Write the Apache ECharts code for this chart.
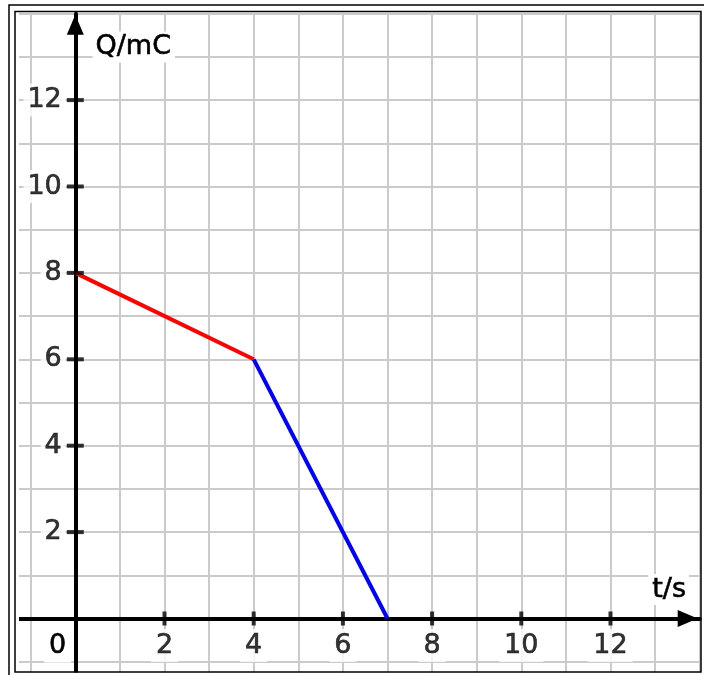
<!DOCTYPE html>
<html><head><meta charset="utf-8">
<script src="https://cdn.jsdelivr.net/npm/echarts@6/dist/echarts.min.js"></script>
<style>html,body{margin:0;padding:0;background:#fff}#c{width:704px;height:675px}</style>
</head><body><div id="c"></div>
<script>
// ---- data ----
const redT = [0, 4];
const redQ = [8, 6];
const blueT = [4, 7];
const blueQ = [6, 0];
const xTickLabels = [2, 4, 6, 8, 10, 12];
const yTickLabels = [2, 4, 6, 8, 10, 12];
const xAxisName = 't/s';
const yAxisName = 'Q/mC';
const originLabel = '0';

// ---- layout ----
const FONT = 'DejaVu Sans';
const X0 = 75.3, XU = 44.6;   // px of t=0, px per unit
const Y0 = 618.5, YU = 43.2;  // px of Q=0, px per unit
const XMIN = -2, XMAX = 14, YMIN = -2, YMAX = 14;

const chart = echarts.init(document.getElementById('c'), null, {renderer: 'canvas'});

const gridAxisX = {
  type: 'value', min: XMIN, max: XMAX, interval: 1, position: 'top', z: 0,
  axisLine: {show: false, onZero: false}, axisTick: {show: false}, axisLabel: {show: false},
  splitLine: {show: true, lineStyle: {color: '#cbcbcb', width: 2}}
};
const gridAxisY = {
  type: 'value', min: YMIN, max: YMAX, interval: 1, position: 'right', z: 0,
  axisLine: {show: false, onZero: false}, axisTick: {show: false}, axisLabel: {show: false},
  splitLine: {show: true, lineStyle: {color: '#cbcbcb', width: 2}}
};
const labelStyle = {fontFamily: FONT, fontSize: 27, color: '#000', backgroundColor: '#fff',
  textBorderColor: '#000', textBorderWidth: 0.6};
const textStyleG = {font: '27px "DejaVu Sans"', fill: '#000', stroke: '#000', lineWidth: 0.6, backgroundColor: '#fff'};

const option = {
  animation: false,
  backgroundColor: '#fff',
  grid: {
    left: X0 + XMIN * XU, top: Y0 - YMAX * YU,
    width: (XMAX - XMIN) * XU, height: (YMAX - YMIN) * YU,
    containLabel: false, outerBoundsMode: 'none'
  },
  xAxis: [gridAxisX, {
    type: 'value', min: XMIN, max: XMAX, interval: 2, position: 'bottom', z: 1,
    axisLine: {show: true, onZero: true, symbol: ['none', 'triangle'], symbolSize: [17, 20],
      symbolOffset: [0, -12], lineStyle: {color: '#000', width: 4}},
    axisTick: {show: false}, splitLine: {show: false}, axisLabel: {show: false}
  }],
  yAxis: [gridAxisY, {
    type: 'value', min: YMIN, max: YMAX, interval: 2, position: 'left', z: 1,
    axisLine: {show: true, onZero: true, symbol: ['none', 'triangle'], symbolSize: [17, 20],
      symbolOffset: [0, -11], lineStyle: {color: '#000', width: 4}},
    axisTick: {show: false}, splitLine: {show: false}, axisLabel: {show: false}
  }],
  series: [
    {type: 'line', xAxisIndex: 1, yAxisIndex: 1, z: 2, showSymbol: false, silent: true,
      data: redT.map((t, i) => [t, redQ[i]]), lineStyle: {color: '#ff0000', width: 4}},
    {type: 'line', xAxisIndex: 1, yAxisIndex: 1, z: 2, showSymbol: false, silent: true,
      data: blueT.map((t, i) => [t, blueQ[i]]), lineStyle: {color: '#0000ff', width: 4}},
    {type: 'scatter', xAxisIndex: 1, yAxisIndex: 1, z: 3, silent: true, symbol: 'rect', symbolSize: [4, 14],
      itemStyle: {color: '#000'}, data: xTickLabels.map(v => [v, 0]),
      label: Object.assign({show: true, position: 'bottom', distance: 3.5, padding: [3, 5, 3, 5],
        formatter: p => String(p.value[0])}, labelStyle)},
    {type: 'scatter', xAxisIndex: 1, yAxisIndex: 1, z: 3, silent: true, symbol: 'rect', symbolSize: [17, 4],
      itemStyle: {color: '#000'}, data: yTickLabels.map(v => [0, v]),
      label: Object.assign({show: true, position: 'left', distance: 1, padding: [6, 4, 0, 4],
        formatter: p => String(p.value[1])}, labelStyle)}
  ],
  graphic: [
    {type: 'rect', z: 100, shape: {x: 0, y: 0, width: 19, height: 675}, style: {fill: '#fff'}},
    {type: 'rect', z: 100, shape: {x: 0, y: 672.5, width: 704, height: 3}, style: {fill: '#fff'}},
    {type: 'rect', z: 101, shape: {x: 9, y: 5, width: 700, height: 680}, style: {fill: 'none', stroke: '#000', lineWidth: 1.5}},
    {type: 'rect', z: 101, shape: {x: 15, y: 11.5, width: 686, height: 660.5}, style: {fill: 'none', stroke: '#000', lineWidth: 1.5}},
    {type: 'text', z: 102, x: 92.5, y: 47, style: Object.assign({text: yAxisName,
      textAlign: 'left', textVerticalAlign: 'middle', padding: [2, 4, 2, 3]}, textStyleG)},
    {type: 'text', z: 102, x: 689, y: 589.5, style: Object.assign({text: xAxisName,
      textAlign: 'right', textVerticalAlign: 'middle', padding: [2, 3, 2, 4]}, textStyleG)},
    {type: 'text', z: 102, x: 57.5, y: 645.5, style: Object.assign({text: originLabel,
      textAlign: 'center', textVerticalAlign: 'middle', padding: [3, 5, 4, 5]}, textStyleG)}
  ]
};
chart.setOption(option);
</script>
</body></html>
